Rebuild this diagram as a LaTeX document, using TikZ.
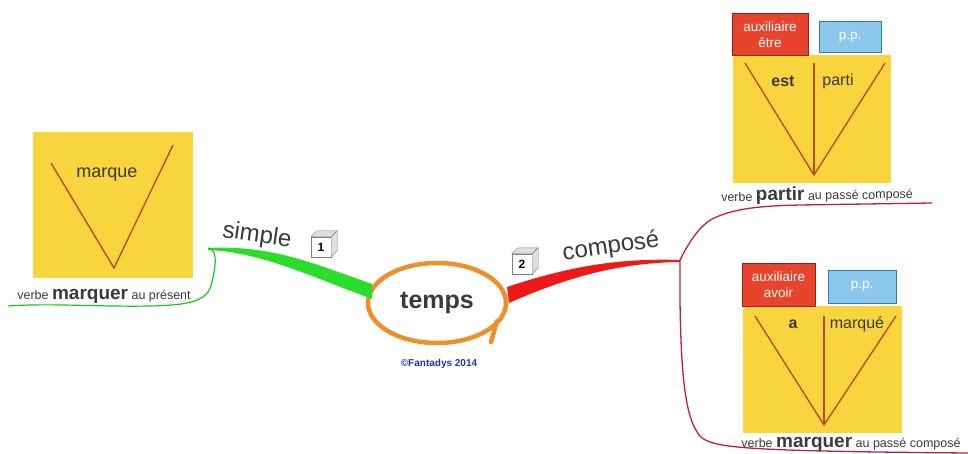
\documentclass[tikz,border=0pt]{standalone}
\usepackage{fontspec}
\setmainfont{Liberation Sans}
\usepackage{xcolor}
\usetikzlibrary{shapes.geometric}

\definecolor{vyellow}{HTML}{F8D53C}
\definecolor{auxred}{HTML}{E8432B}
\definecolor{auxedge}{HTML}{8B2A1A}
\definecolor{ppblue}{HTML}{8CC8EE}
\definecolor{ppedge}{HTML}{2E7DB5}
\definecolor{vline}{HTML}{B8472A}
\definecolor{simplegreen}{HTML}{2BDD2B}
\definecolor{composered}{HTML}{EE1A1A}
\definecolor{thinred}{HTML}{C41E3A}
\definecolor{ringorange}{HTML}{EE8F2A}
\definecolor{labelgray}{HTML}{3A3A3A}
\definecolor{copyblue}{HTML}{2233AA}

\newcommand{\fsz}[1]{\fontsize{#1}{#1}\selectfont}

\begin{document}
\begin{tikzpicture}[x=1pt, y=-1pt,
    every node/.style={inner sep=0pt, text=labelgray},
    vbox/.style={fill=vyellow},
    auxbox/.style={fill=auxred, draw=auxedge, line width=1pt, text=white, align=center, font=\fontsize{13.5}{16}\selectfont},
    ppbox/.style={fill=ppblue, draw=ppedge, line width=1pt, text=white, font=\fsz{13.5}},
    vstroke/.style={vline, line width=1.3pt},
    cubebox/.style={draw=gray, fill=white, minimum size=20pt, font=\bfseries\fsz{12}, text=black},
    cubeside/.style={draw=gray, fill=gray!25},
    thin/.style={thinred, line width=1.3pt}]
    \useasboundingbox (0,0) rectangle (968,454);
    % centre
    \node[ellipse, minimum width=140pt, minimum height=82pt, font=\bfseries\fsz{25}] (temps) at (437,303) {temps};
    \draw[ringorange, line width=4.5pt] (temps.center) ellipse [x radius=69, y radius=40];
    \draw[ringorange, line width=4.5pt, line cap=round] (497,321) -- (491,342);
    \node[font=\bfseries\fsz{10}, text=copyblue] (copy) at (439,364) {©Fantadys 2014};
    % branch simple
    \coordinate (gsplit) at (208,248);
    \fill[simplegreen] (gsplit) .. controls (270,245) and (310,262) .. (372,284)
        -- (372,299) .. controls (310,276) and (260,252) .. (208,250) -- cycle;
    \draw[simplegreen!80!black!70!green, line width=1.2pt] (gsplit) .. controls (220,250) and (214,272) .. (212,282)
        .. controls (208,300) and (195,305) .. (150,306) .. controls (100,307) and (50,303) .. (8,306);
    \node[font=\fsz{24}, rotate=-8] (simple) at (257,236) {simple};
    \node[cubebox] (c1) at (321,247) {1};
    \draw[cubeside] (c1.north west) -- ++(6,-6) -- ++(20,0) -- (c1.north east) -- cycle;
    \draw[cubeside] (c1.north east) -- ++(6,-6) -- ++(0,20) -- (c1.south east) -- cycle;
    % branch compose
    \coordinate (rsplit) at (680,260);
    \fill[composered] (507,287) .. controls (570,266) and (620,258) .. (rsplit)
        -- (680,262) .. controls (620,263) and (570,276) .. (509,303) -- cycle;
    \node[font=\fsz{24}, rotate=8] (compose) at (611,247) {composé};
    \node[cubebox] (c2) at (522,264) {2};
    \draw[cubeside] (c2.north west) -- ++(6,-6) -- ++(20,0) -- (c2.north east) -- cycle;
    \draw[cubeside] (c2.north east) -- ++(6,-6) -- ++(0,20) -- (c2.south east) -- cycle;
    \draw[thin] (rsplit) .. controls (690,240) and (700,226) .. (712,219)
        .. controls (735,208) and (760,206) .. (800,205) -- (932,203);
    \draw[thin] (rsplit) -- (680,300) .. controls (681,380) and (686,420) .. (700,436)
        .. controls (712,448) and (740,451) .. (968,453);
    % present
    \node[vbox, minimum width=160pt, minimum height=146pt] (pbox) at (113,205) {};
    \draw[vstroke] (51,163) -- (114,268) -- (173,145);
    \node[font=\fsz{18}] (pverb) at (107,175) {marque};
    \node[font=\fsz{12.5}] (plabel) at (104,296) {verbe \textbf{\fsz{19}marquer} au présent};
    % passe compose, partir
    \node[vbox, minimum width=158pt, minimum height=128pt] (ebox) at (812,119) {};
    \node[auxbox, minimum width=76pt, minimum height=42pt] (eaux) at (770,35) {auxiliaire\\être};
    \node[ppbox, minimum width=62pt, minimum height=31pt] (epp) at (850,37.5) {p.p.};
    \draw[vstroke] (745,63) -- (814,175) -- (885,63);
    \draw[vstroke] (814,63) -- (814,175);
    \node[font=\bfseries\fsz{16}] (est) at (783,81) {est};
    \node[font=\fsz{16}] (parti) at (838,81) {parti};
    \node[font=\fsz{12.5}, rotate=1] (elabel) at (817,195) {verbe \textbf{\fsz{19}partir} au passé composé};
    % passe compose, marquer
    \node[vbox, minimum width=159pt, minimum height=127pt] (abox) at (822.5,369.5) {};
    \node[auxbox, minimum width=73pt, minimum height=43pt] (aaux) at (778.5,284.5) {auxiliaire\\avoir};
    \node[ppbox, minimum width=68pt, minimum height=33pt] (app) at (862,286.5) {p.p.};
    \draw[vstroke] (755,316) -- (824,425) -- (896,316);
    \draw[vstroke] (824,316) -- (824,425);
    \node[font=\bfseries\fsz{16}] (a) at (793,324) {a};
    \node[font=\fsz{16}] (marque) at (857,324) {marqué};
    \node[font=\fsz{12.5}] (alabel) at (851,444) {verbe \textbf{\fsz{19}marquer} au passé composé};
\end{tikzpicture}
\end{document}
